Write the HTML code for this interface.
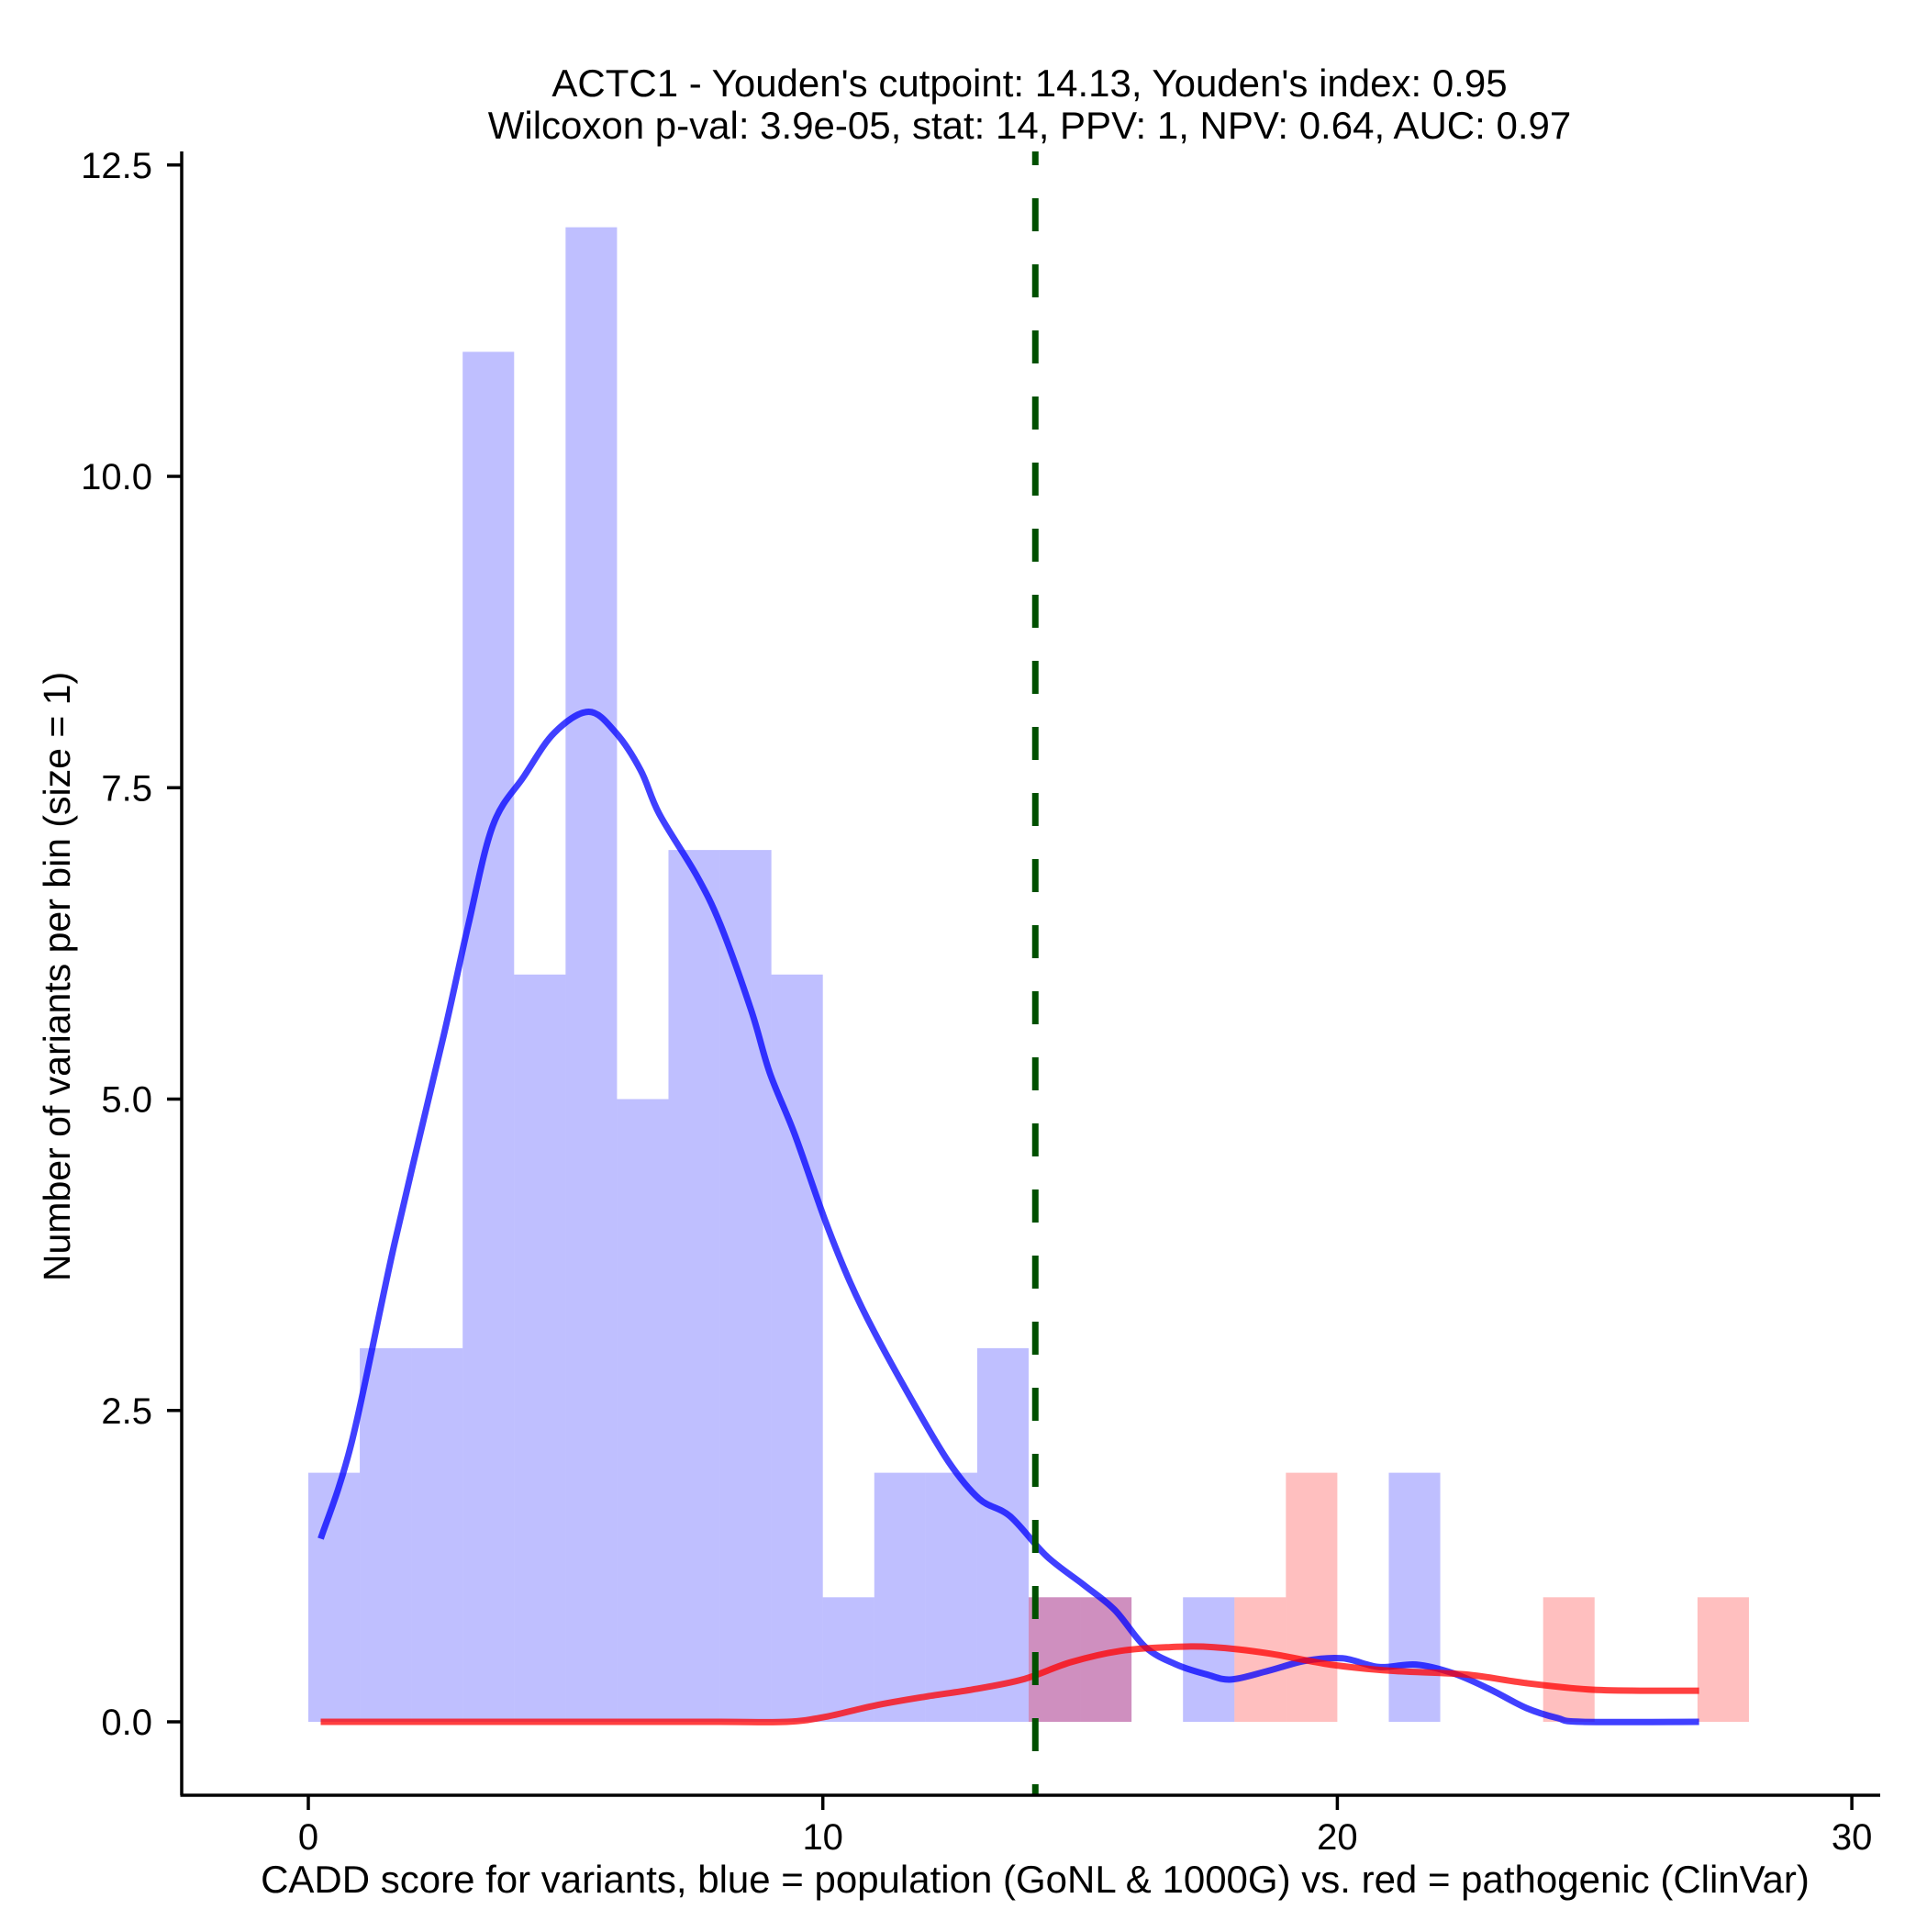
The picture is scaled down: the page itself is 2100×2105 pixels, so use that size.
<!DOCTYPE html>
<html><head><meta charset="utf-8"><style>
html,body{margin:0;padding:0;background:#fff;}
svg text{font-family:"Liberation Sans",Arial,sans-serif;fill:#000;}
</style></head><body>
<svg id="chart" width="2100" height="2100" viewBox="0 0 2100 2100" xmlns="http://www.w3.org/2000/svg">
<g id="bars"></g>
<g id="lines"></g>
<g id="axes"></g>
<text x="1122" y="105" font-size="42" text-anchor="middle">ACTC1 - Youden's cutpoint: 14.13, Youden's index: 0.95</text>
<text x="1122" y="151" font-size="42" text-anchor="middle">Wilcoxon p-val: 3.9e-05, stat: 14, PPV: 1, NPV: 0.64, AUC: 0.97</text>
<text x="1128" y="2062" font-size="42" text-anchor="middle">CADD score for variants, blue = population (GoNL &amp; 1000G) vs. red = pathogenic (ClinVar)</text>
<text x="0" y="0" font-size="41" text-anchor="middle" transform="translate(76,1064) rotate(-90)">Number of variants per bin (size = 1)</text>
</svg>
<script>
const blueCounts = [2,3,3,11,6,12,5,7,7,6,1,2,2,3,1,1,0,1,0,0,0,2,0,0,0,0,0,0];
const redCounts  = [0,0,0,0,0,0,0,0,0,0,0,0,0,0,1,1,0,0,1,2,0,0,0,0,1,0,0,1];
const blueDensX = [0.24,0.84,1.67,2.63,3.11,3.59,4.19,4.78,5.45,5.98,6.46,6.82,7.54,8.01,8.61,8.97,9.45,10.05,10.53,11.0,11.72,12.44,13.04,13.64,14.35,15.07,15.67,16.27,16.87,17.46,17.94,18.66,19.38,20.1,20.81,21.53,22.25,22.97,23.68,24.28,24.76,27.03];
const blueDensY = [1.47,2.24,3.83,5.51,6.40,7.2,7.59,7.94,8.11,7.94,7.64,7.29,6.80,6.40,5.71,5.21,4.72,4.02,3.53,3.13,2.59,2.09,1.79,1.65,1.33,1.10,0.90,0.60,0.46,0.38,0.34,0.41,0.49,0.51,0.44,0.46,0.39,0.26,0.11,0.03,0,0];
const redDensX = [0.24,3,6,8,9.3,10.05,11.0,11.96,12.92,13.88,14.83,15.79,16.75,17.58,18.66,19.86,21.05,22.49,23.68,24.88,26,27.03];
const redDensY = [0,0,0,0,0,0.04,0.13,0.20,0.26,0.34,0.48,0.57,0.60,0.60,0.55,0.46,0.41,0.38,0.31,0.26,0.25,0.25];
const cutpoint = 14.13;
const xTicks = [0,10,20,30];
const yTicks = [0,2.5,5,7.5,10,12.5];
const yTickLabels = ["0.0","2.5","5.0","7.5","10.0","12.5"];

const NS = "http://www.w3.org/2000/svg";
const X = v => 336 + v * 56.07;
const Y = v => 1876 - v * 135.7;
function mk(tag, attrs, parent){const e=document.createElementNS(NS,tag);for(const k in attrs)e.setAttribute(k,attrs[k]);parent.appendChild(e);return e;}
const bars=document.getElementById('bars'), lines=document.getElementById('lines'), axes=document.getElementById('axes');
blueCounts.forEach((c,i)=>{ if(!c) return;
  const r=mk('rect',{x:X(i),y:Y(c),width:X(i+1)-X(i),height:Y(0)-Y(c),fill:'rgb(0,0,255)','fill-opacity':0.25},bars);
  
  
});
redCounts.forEach((c,i)=>{ if(!c) return;
  const r=mk('rect',{x:X(i),y:Y(c),width:X(i+1)-X(i),height:Y(0)-Y(c),fill:'rgb(255,0,0)','fill-opacity':0.25},bars);
  
  
});
function poly(xs,ys,col,name){
  const P=xs.map((x,i)=>[X(x),Y(ys[i])]);
  let d='M'+P[0][0].toFixed(1)+','+P[0][1].toFixed(1);
  for(let i=0;i<P.length-1;i++){
    const p0=P[Math.max(i-1,0)],p1=P[i],p2=P[i+1],p3=P[Math.min(i+2,P.length-1)];
    const c1=[p1[0]+(p2[0]-p0[0])/6,p1[1]+(p2[1]-p0[1])/6];
    const c2=[p2[0]-(p3[0]-p1[0])/6,p2[1]-(p3[1]-p1[1])/6];
    d+=' C'+c1.map(v=>v.toFixed(1)).join(',')+' '+c2.map(v=>v.toFixed(1)).join(',')+' '+p2.map(v=>v.toFixed(1)).join(',');
  }
  const p=mk('path',{d:d,fill:'none',stroke:col,'stroke-opacity':0.75,'stroke-width':7,'stroke-linejoin':'round'},lines);
  
  
}
poly(blueDensX,blueDensY,'rgb(0,0,255)','blue-density-line');
poly(redDensX,redDensY,'rgb(255,0,0)','red-density-line');
const cl=mk('line',{x1:X(cutpoint),x2:X(cutpoint),y1:165,y2:1956,stroke:'#005000','stroke-width':7,'stroke-dasharray':'36 36','stroke-dashoffset':21},lines);


const ya=mk('line',{x1:198,x2:198,y1:165,y2:1956,stroke:'#000','stroke-width':3.5},axes);


const xa=mk('line',{x1:196.5,x2:2049,y1:1956,y2:1956,stroke:'#000','stroke-width':3.5},axes);


yTicks.forEach((v,i)=>{
  const t=mk('line',{x1:182,x2:198,y1:Y(v),y2:Y(v),stroke:'#000','stroke-width':3.5},axes);
  
  
  const l=mk('text',{x:166,y:Y(v)+14,'font-size':40,'text-anchor':'end'},axes);
  l.textContent=yTickLabels[i];
  
  
});
xTicks.forEach(v=>{
  const t=mk('line',{x1:X(v),x2:X(v),y1:1956,y2:1972,stroke:'#000','stroke-width':3.5},axes);
  
  
  const l=mk('text',{x:X(v),y:2015,'font-size':40,'text-anchor':'middle'},axes);
  l.textContent=String(v);
  
  
});
</script>
</body></html>
